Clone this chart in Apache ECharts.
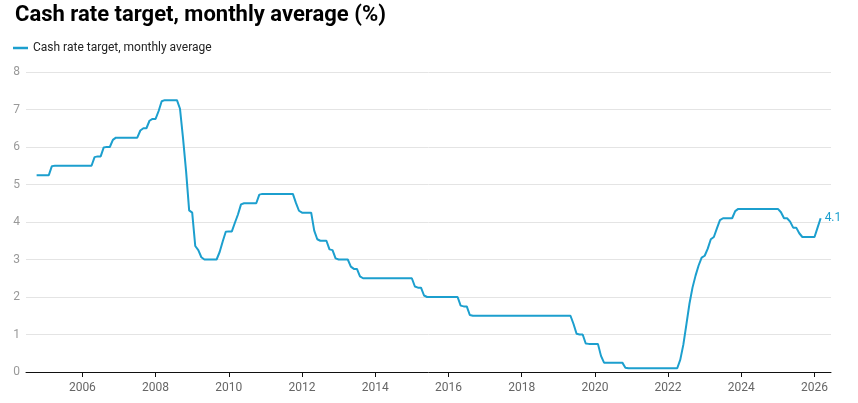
<!DOCTYPE html>
<html>
<head>
<meta charset="utf-8">
<script src="https://cdn.jsdelivr.net/npm/echarts@6/dist/echarts.min.js"></script>
<style>
html,body{margin:0;padding:0;background:#fff;}
#c{width:858px;height:403px;}
</style>
</head>
<body>
<div id="c"></div>
<script>
// Monthly average cash rate target (%), starting October 2004
const startYear = 2004;
const startMonth = 10;
const cashRate = [
  // 2004 Oct-Dec
  5.25,5.25,5.25,
  // 2005
  5.25,5.25,5.49,5.5,5.5,5.5,5.5,5.5,5.5,5.5,5.5,5.5,
  // 2006
  5.5,5.5,5.5,5.5,5.73,5.75,5.75,5.99,6.0,6.0,6.19,6.25,
  // 2007
  6.25,6.25,6.25,6.25,6.25,6.25,6.25,6.44,6.5,6.5,6.7,6.75,
  // 2008
  6.75,6.96,7.22,7.25,7.25,7.25,7.25,7.25,7.02,6.23,5.35,4.31,
  // 2009
  4.25,3.36,3.25,3.06,3.0,3.0,3.0,3.0,3.0,3.2,3.48,3.74,
  // 2010
  3.75,3.75,3.98,4.2,4.47,4.5,4.5,4.5,4.5,4.5,4.73,4.75,
  // 2011
  4.75,4.75,4.75,4.75,4.75,4.75,4.75,4.75,4.75,4.75,4.51,4.3,
  // 2012
  4.25,4.25,4.25,4.25,3.77,3.54,3.5,3.5,3.5,3.27,3.25,3.03,
  // 2013
  3.0,3.0,3.0,3.0,2.81,2.75,2.75,2.55,2.5,2.5,2.5,2.5,
  // 2014
  2.5,2.5,2.5,2.5,2.5,2.5,2.5,2.5,2.5,2.5,2.5,2.5,
  // 2015
  2.5,2.28,2.25,2.25,2.04,2.0,2.0,2.0,2.0,2.0,2.0,2.0,
  // 2016
  2.0,2.0,2.0,2.0,1.77,1.75,1.75,1.52,1.5,1.5,1.5,1.5,
  // 2017
  1.5,1.5,1.5,1.5,1.5,1.5,1.5,1.5,1.5,1.5,1.5,1.5,
  // 2018
  1.5,1.5,1.5,1.5,1.5,1.5,1.5,1.5,1.5,1.5,1.5,1.5,
  // 2019
  1.5,1.5,1.5,1.5,1.5,1.28,1.02,1.0,1.0,0.76,0.75,0.75,
  // 2020
  0.75,0.75,0.43,0.25,0.25,0.25,0.25,0.25,0.25,0.25,0.115,0.1,
  // 2021
  0.1,0.1,0.1,0.1,0.1,0.1,0.1,0.1,0.1,0.1,0.1,0.1,
  // 2022
  0.1,0.1,0.1,0.1,0.33,0.73,1.27,1.82,2.25,2.57,2.84,3.05,
  // 2023
  3.1,3.29,3.54,3.6,3.83,4.05,4.1,4.1,4.1,4.1,4.29,4.35,
  // 2024
  4.35,4.35,4.35,4.35,4.35,4.35,4.35,4.35,4.35,4.35,4.35,4.35,
  // 2025
  4.35,4.26,4.1,4.1,4.01,3.85,3.85,3.7,3.6,3.6,3.6,3.6,
  // 2026 Jan-Mar
  3.6,3.85,4.1
];
const yearTicks = [2006,2008,2010,2012,2014,2016,2018,2020,2022,2024,2026];
const yTicks = [0,1,2,3,4,5,6,7,8];
const seriesName = 'Cash rate target, monthly average';
const titleText = 'Cash rate target, monthly average (%)';

const points = cashRate.map((v, i) => {
  const m = startMonth - 1 + i;
  return [startYear + Math.floor(m / 12) + (m % 12) / 12, v];
});

const blue = '#1c9fce';
const chart = echarts.init(document.getElementById('c'));
chart.setOption({
  animation: false,
  textStyle: { fontFamily: 'Roboto' },
  title: {
    text: titleText,
    left: 10, top: -1,
    textStyle: { fontFamily: 'Roboto', fontSize: 22, fontWeight: 'bold', color: '#000' }
  },
  legend: {
    data: [seriesName],
    left: 8, top: 37,
    icon: 'rect', itemWidth: 15, itemHeight: 2.5,
    textStyle: { fontFamily: 'Roboto', fontSize: 12, color: '#222' }
  },
  grid: { left: 26, right: 27, top: 72, bottom: 31, containLabel: false },
  xAxis: {
    type: 'value',
    min: 2004.46, max: 2026.45,
    axisLine: { show: true, lineStyle: { color: '#111', width: 1 } },
    axisTick: { show: true, length: 5, lineStyle: { color: '#111' }, customValues: yearTicks },
    axisLabel: { color: '#666', fontSize: 12, margin: 10, customValues: yearTicks, formatter: v => String(Math.round(v)) },
    splitLine: { show: false }
  },
  yAxis: {
    type: 'value',
    min: 0, max: 8, interval: 1,
    axisLine: { show: false },
    axisTick: { show: false },
    axisLabel: { color: '#999', fontSize: 12, margin: 6 },
    splitLine: { show: true, lineStyle: { color: '#e4e4e4', width: 1 } }
  },
  series: [{
    name: seriesName,
    type: 'line',
    data: points,
    showSymbol: false,
    symbol: 'none',
    lineStyle: { color: blue, width: 2 },
    itemStyle: { color: blue },
    endLabel: {
      show: true,
      formatter: p => String(p.value[1]),
      color: blue, fontSize: 12, distance: 4, fontFamily: 'Roboto'
    }
  }]
});
</script>
</body>
</html>
